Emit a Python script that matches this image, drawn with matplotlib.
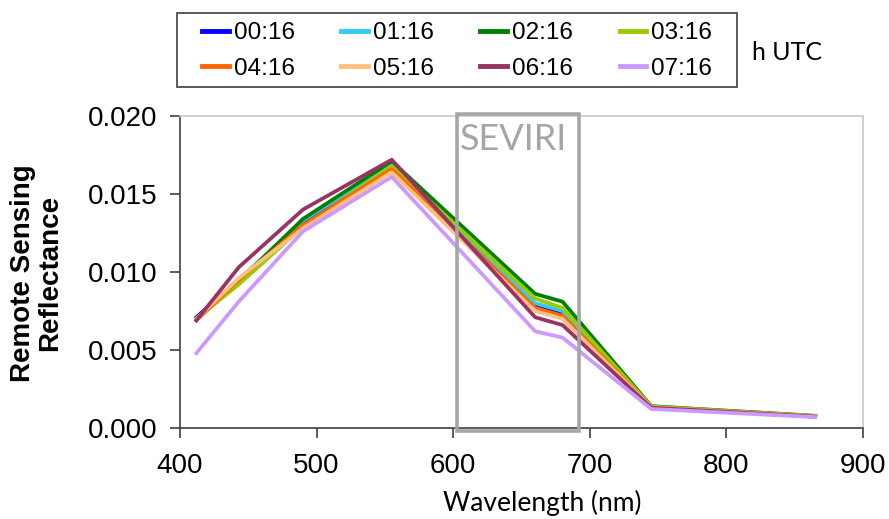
import matplotlib
matplotlib.use('Agg')
import matplotlib.pyplot as plt
from matplotlib.patches import Rectangle

# GOCI bands (nm)
wavelengths = [412, 443, 490, 555, 660, 680, 745, 865]

# hourly Rrs spectra
times = ['00:16', '01:16', '02:16', '03:16', '04:16', '05:16', '06:16', '07:16']
rrs_0016 = [0.0071, 0.0095, 0.0131, 0.0170, 0.0079, 0.0074, 0.00135, 0.00075]
rrs_0116 = [0.0070, 0.0095, 0.0133, 0.0169, 0.0080, 0.0075, 0.00135, 0.00075]
rrs_0216 = [0.0070, 0.0094, 0.0134, 0.0171, 0.0086, 0.0081, 0.00140, 0.00078]
rrs_0316 = [0.0070, 0.0092, 0.0129, 0.0168, 0.0083, 0.0077, 0.00138, 0.00077]
rrs_0416 = [0.0069, 0.0095, 0.0130, 0.0166, 0.0077, 0.0072, 0.00133, 0.00075]
rrs_0516 = [0.0070, 0.0096, 0.0128, 0.0164, 0.0075, 0.0070, 0.00132, 0.00074]
rrs_0616 = [0.0069, 0.0103, 0.0140, 0.0172, 0.0071, 0.0066, 0.00130, 0.00073]
rrs_0716 = [0.0048, 0.0081, 0.0126, 0.0161, 0.0062, 0.0058, 0.00122, 0.00070]
all_rrs = [rrs_0016, rrs_0116, rrs_0216, rrs_0316, rrs_0416, rrs_0516, rrs_0616, rrs_0716]

colors = ['#0000ff', '#33ccf0', '#008000', '#99cc00', '#ff6600', '#ffc080', '#993366', '#cc99ff']

# SEVIRI band window
sev_lo, sev_hi = 603, 692

plt.rcParams['font.family'] = ['Liberation Sans', 'DejaVu Sans']

fig = plt.figure(figsize=(8.89, 5.19), dpi=100)
ax = fig.add_axes([180/889, 1-428/519, (863-180)/889, (428-116)/519])

lines = []
for t, vals, c in zip(times, all_rrs, colors):
    ln, = ax.plot(wavelengths, vals, color=c, lw=2.7, label=t)
    lines.append(ln)

ax.set_xlim(400, 900)
ax.set_ylim(0, 0.020)
ax.set_xticks([400, 500, 600, 700, 800, 900])
ax.set_yticks([0.000, 0.005, 0.010, 0.015, 0.020])
ax.set_yticklabels(['0.000', '0.005', '0.010', '0.015', '0.020'])
ax.tick_params(labelsize=20, direction='out', length=7, width=1.2, color='#404040')
ax.tick_params(axis='x', pad=11)
ax.tick_params(axis='y', pad=9)

for s in ['left', 'bottom']:
    ax.spines[s].set_color('#404040')
    ax.spines[s].set_linewidth(1.2)
for s in ['top', 'right']:
    ax.spines[s].set_color('#c8c8c8')
    ax.spines[s].set_linewidth(1.2)

rect = Rectangle((sev_lo, -0.0002), sev_hi - sev_lo, 0.0203, fill=False,
                 edgecolor='#a6a6a6', lw=2.6, clip_on=False, zorder=5)
ax.add_patch(rect)
ax.text(644, 0.0185, 'SEVIRI', color='#a6a6a6', fontsize=26, family='Lato',
        ha='center', va='center')

fig.text(37/889, 1-273/519, 'Remote Sensing\nReflectance', rotation=90,
         fontsize=20, fontweight='bold', ha='center', va='center', linespacing=1.05)
fig.text(542/889, 1-503/519, 'Wavelength (nm)', fontsize=19, family='Lato',
         ha='center', va='center')

# legend reads row by row: reorder for matplotlib's column filling
order = [0, 4, 1, 5, 2, 6, 3, 7]
leg = fig.legend(handles=[lines[i] for i in order], ncol=4, loc='upper left',
                 bbox_to_anchor=(202/889, 1-22/519), borderaxespad=0, fontsize=17.5,
                 handlelength=1.1, handletextpad=0.2, columnspacing=1.92,
                 borderpad=0, labelspacing=0.56, frameon=False)
for h in leg.legend_handles:
    h.set_linewidth(3.5)
# legend frame
fig.patches.append(Rectangle((177/889, 1-87/519), 560/889, 74/519, fill=False,
                             edgecolor='#404040', lw=1.2, transform=fig.transFigure))

fig.text(752/889, 1-52/519, 'h UTC', fontsize=18, family='Lato', ha='left', va='center')

fig.savefig('out.png', dpi=100)
